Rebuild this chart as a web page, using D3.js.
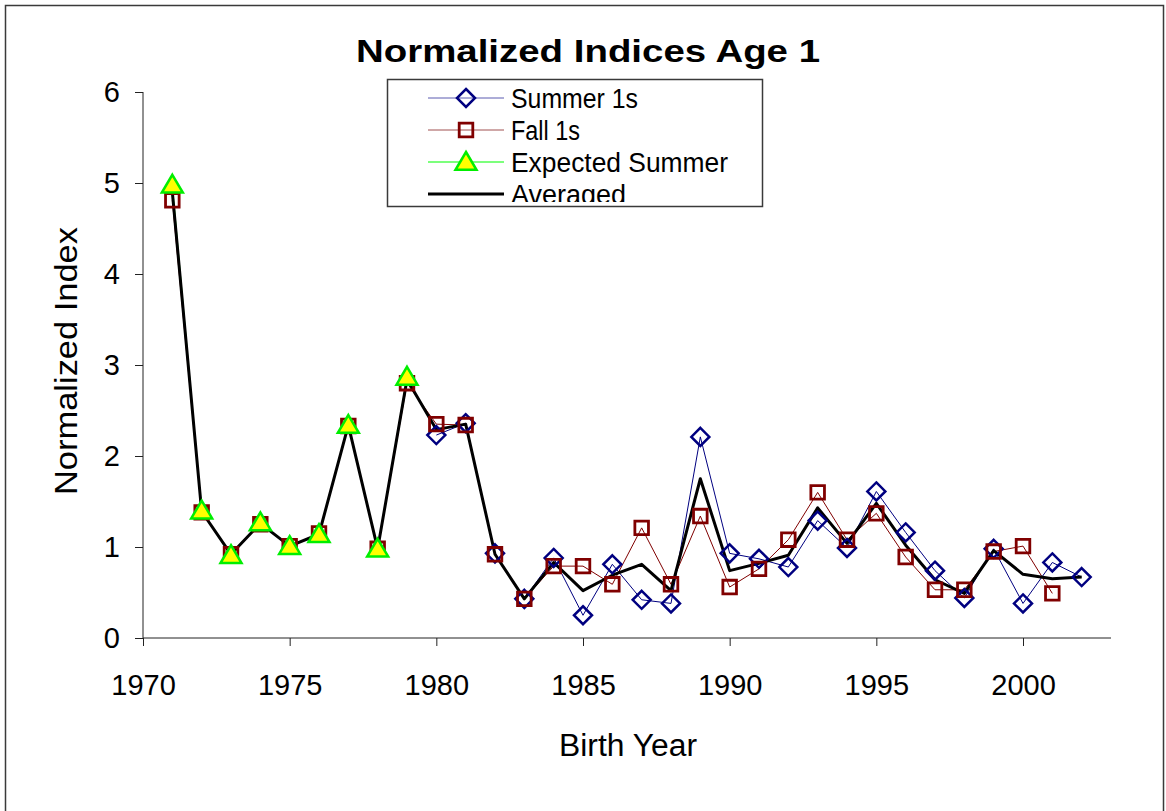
<!DOCTYPE html>
<html><head><meta charset="utf-8">
<script src="https://cdn.jsdelivr.net/npm/d3@7"></script>
<style>
body{margin:0;background:#fff}
text{font-family:Arial,"Liberation Sans",sans-serif;fill:#000}
</style>
</head><body>
<svg id="c" width="1166" height="811"></svg>
<script>
// ---- data ----
const years = [1971,1972,1973,1974,1975,1976,1977,1978,1979,1980,1981,1982,1983,1984,1985,1986,
               1987,1988,1989,1990,1991,1992,1993,1994,1995,1996,1997,1998,1999,2000,2001,2002];
const summer1s = [null,null,null,null,null,null,null,null,null,2.23,2.36,0.93,0.43,0.88,0.25,0.81,
                  0.42,0.38,2.21,0.93,0.87,0.78,1.29,0.99,1.61,1.16,0.74,0.44,0.98,0.38,0.83,0.67];
const fall1s = [4.81,1.38,0.92,1.25,1.01,1.15,2.33,0.98,2.80,2.35,2.34,0.92,0.43,0.79,0.79,0.59,
                1.21,0.59,1.34,0.56,0.76,1.08,1.60,1.08,1.37,0.89,0.53,0.53,0.95,1.01,0.49,null];
const expectedSummer = [4.98,1.40,0.91,1.27,1.01,1.14,2.34,0.98,2.87,null,null,null,null,null,null,null,
                        null,null,null,null,null,null,null,null,null,null,null,null,null,null,null,null];
const averaged = [4.90,1.39,0.92,1.26,1.01,1.14,2.34,0.98,2.84,2.29,2.35,0.92,0.43,0.83,0.52,0.69,
                  0.81,0.52,1.75,0.74,0.82,0.91,1.43,1.04,1.48,1.02,0.64,0.49,0.96,0.70,0.65,0.67];
const xTicks = [1970,1975,1980,1985,1990,1995,2000];
const yTicks = [0,1,2,3,4,5,6];
const seriesNames = ["Summer 1s","Fall 1s","Expected Summer","Averaged"];

// ---- layout ----
const svg = d3.select("#c");
const x = d3.scaleLinear().domain([1970,2003]).range([143,1111]);
const y = d3.scaleLinear().domain([0,6]).range([638,92]);

// outer frame
svg.append("path").attr("d","M5.5,812 V5.5 H1163.5 V812")
  .attr("fill","none").attr("stroke","#3a3a3a").attr("stroke-width",1.5);

// axes
const yAxis = svg.append("g").attr("transform","translate(143,0)")
  .call(d3.axisLeft(y).tickValues(yTicks).tickFormat(d3.format("d")).tickSize(8).tickPadding(15));
const xAxis = svg.append("g").attr("transform","translate(0,638)")
  .call(d3.axisBottom(x).tickValues(xTicks).tickFormat(d3.format("d")).tickSize(8).tickSizeOuter(0));
[yAxis,xAxis].forEach(a=>{
  a.select(".domain").attr("stroke","#222");
  a.selectAll(".tick line").attr("stroke","#222");
  a.selectAll(".tick text").attr("font-size",29).attr("font-family","Arial,'Liberation Sans',sans-serif").attr("fill","#000");
});
yAxis.select(".domain").attr("d","M0,638 V92");
yAxis.selectAll(".tick text").attr("dy","0.34em");
xAxis.select(".domain").attr("d","M143,0 H1111");
xAxis.selectAll(".tick text").attr("y",57).attr("dy",0);

// title & axis labels
svg.append("text").attr("x",356).attr("y",62).attr("font-size",32).attr("font-weight","bold")
  .attr("textLength",464).attr("lengthAdjust","spacingAndGlyphs").text("Normalized Indices Age 1");
svg.append("text").attr("transform","translate(77,361) rotate(-90)").attr("text-anchor","middle")
  .attr("font-size",32).attr("textLength",268).attr("lengthAdjust","spacingAndGlyphs").text("Normalized Index");
svg.append("text").attr("x",628).attr("y",756).attr("text-anchor","middle")
  .attr("font-size",31).attr("textLength",138).attr("lengthAdjust","spacingAndGlyphs").text("Birth Year");

// series helpers
const pts = arr => years.map((yr,i)=>({yr, v:arr[i]})).filter(d=>d.v!==null);
const line = d3.line().x(d=>x(d.yr)).y(d=>y(d.v));
const diamond = s => `M0,${-s} L${s},0 L0,${s} L${-s},0 Z`;
const square = s => `M${-s},${-s} H${s} V${s} H${-s} Z`;
const triangle = s => `M0,${-s} L${s*1.05},${s*0.78} L${-s*1.05},${s*0.78} Z`;

function marker(g, shape, stroke, fill, sw){
  return g.append("path").attr("d",shape).attr("fill",fill).attr("stroke",stroke).attr("stroke-width",sw);
}

// thin series lines
svg.append("path").datum(pts(summer1s)).attr("d",line).attr("fill","none")
  .attr("stroke","#000080").attr("stroke-width",1);
svg.append("path").datum(pts(fall1s)).attr("d",line).attr("fill","none")
  .attr("stroke","#800000").attr("stroke-width",1);
svg.append("path").datum(pts(expectedSummer)).attr("d",line).attr("fill","none")
  .attr("stroke","#00ff00").attr("stroke-width",1);

// Averaged thick line (above thin lines, under markers)
svg.append("path").datum(pts(averaged)).attr("d",line).attr("fill","none")
  .attr("stroke","#000").attr("stroke-width",3).attr("stroke-linejoin","round");

// markers
svg.append("g").selectAll("path").data(pts(summer1s)).join("path")
  .attr("transform",d=>`translate(${x(d.yr)},${y(d.v)})`).attr("d",diamond(9))
  .attr("fill","none").attr("stroke","#000080").attr("stroke-width",2.5);
svg.append("g").selectAll("path").data(pts(fall1s)).join("path")
  .attr("transform",d=>`translate(${x(d.yr)},${y(d.v)})`).attr("d",square(6.8))
  .attr("fill","none").attr("stroke","#800000").attr("stroke-width",2.8);
svg.append("g").selectAll("path").data(pts(expectedSummer)).join("path")
  .attr("transform",d=>`translate(${x(d.yr)},${y(d.v)})`).attr("d",triangle(10))
  .attr("fill","#ffff00").attr("stroke","#00ee00").attr("stroke-width",2.5).attr("stroke-linejoin","miter");

// legend
const lg = svg.append("g");
lg.append("rect").attr("x",387.5).attr("y",79.5).attr("width",375).attr("height",127)
  .attr("fill","#fff").attr("stroke","#3a3a3a").attr("stroke-width",1.5);
svg.append("defs").append("clipPath").attr("id","lgclip").append("rect")
  .attr("x",388).attr("y",80).attr("width",374).attr("height",122);
const lgc = lg.append("g").attr("clip-path","url(#lgclip)");
const lgStyles = [
  {stroke:"#5a5ab0", sw:1, w:127, mk: g=>marker(g,diamond(9),"#000080","none",2.5)},
  {stroke:"#a05050", sw:1, w:69, mk: g=>marker(g,square(6.8),"#800000","none",2.8)},
  {stroke:"#50ff50", sw:1.5, w:217, mk: g=>marker(g,triangle(10),"#00ee00","#ffff00",2.5)},
  {stroke:"#000", sw:3, w:115, mk: null}
];
seriesNames.forEach((name,i)=>{
  const cy = 98 + i*32;
  lgc.append("line").attr("x1",428).attr("x2",504).attr("y1",cy).attr("y2",cy)
    .attr("stroke",lgStyles[i].stroke).attr("stroke-width",lgStyles[i].sw);
  if(lgStyles[i].mk){ const g = lgc.append("g").attr("transform",`translate(466,${cy})`); lgStyles[i].mk(g); }
  lgc.append("text").attr("x",511).attr("y",cy+6.5+3.5).attr("font-size",27)
    .attr("textLength",lgStyles[i].w).attr("lengthAdjust","spacingAndGlyphs").text(name);
});
</script>
</body></html>
